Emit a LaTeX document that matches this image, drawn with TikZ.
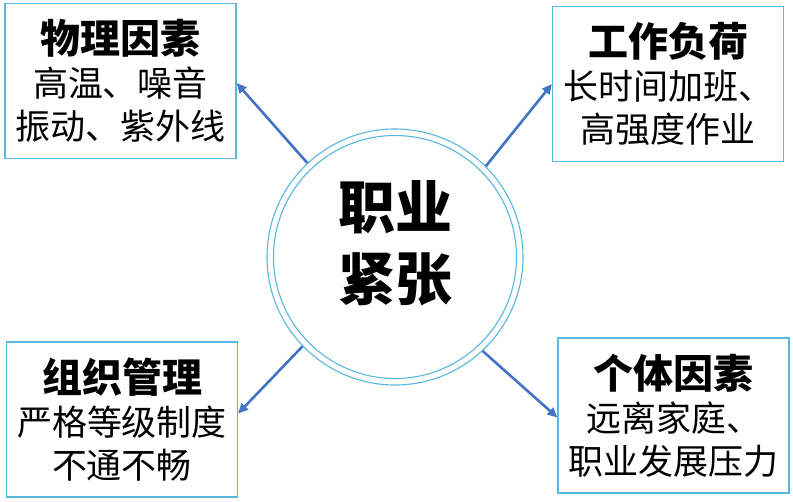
\documentclass[tikz,border=0pt]{standalone}
\usepackage{fontspec}
\setmainfont{Noto Sans CJK SC}
\usetikzlibrary{arrows.meta}
\definecolor{boxline}{RGB}{88,184,222}
\definecolor{arrowblue}{RGB}{68,114,196}
\tikzset{
  x=1pt,y=-1pt,
  factorbox/.style={draw=boxline,line width=1.2pt,fill=white,minimum width=231pt,minimum height=155pt,inner sep=0pt,align=center,font=\fontsize{35}{43}\selectfont},
  ring/.style={circle,draw=boxline,line width=1.1pt,inner sep=0pt},
  link/.style={draw=arrowblue,line width=2.6pt,-{Triangle[length=10pt,width=9pt]}},
}
\newcommand{\ttl}[1]{{\fontsize{40}{44}\selectfont\bfseries #1}}
\begin{document}
\begin{tikzpicture}
\useasboundingbox (0,0) rectangle (793,501);
\fill[white] (0,0) rectangle (793,501);
\node[ring,minimum size=256pt] (c) at (395,257) {};
\node[ring,minimum size=243pt] (ci) at (395,257) {};
\node[align=center,font=\fontsize{57}{72}\selectfont\bfseries] (ct) at (395,243) {职业\\紧张};
\node[factorbox] (tl) at (120.5,81) {\ttl{物理因素}\\高温、噪音\\振动、紫外线};
\node[factorbox] (tr) at (668,84) {\ttl{工作负荷}\\长时间加班、\\高强度作业};
\node[factorbox] (bl) at (122,419.5) {\ttl{组织管理}\\严格等级制度\\不通不畅};
\node[factorbox] (br) at (673.5,415.5) {\ttl{个体因素}\\远离家庭、\\职业发展压力};
\draw[link] (c.133) -- ([yshift=-2pt]tl.east);
\draw[link] (c.45) -- (tr.west);
\draw[link] (c.224) -- ([yshift=6pt]bl.east);
\draw[link] (c.313) -- ([yshift=-2pt]br.west);
\end{tikzpicture}
\end{document}
